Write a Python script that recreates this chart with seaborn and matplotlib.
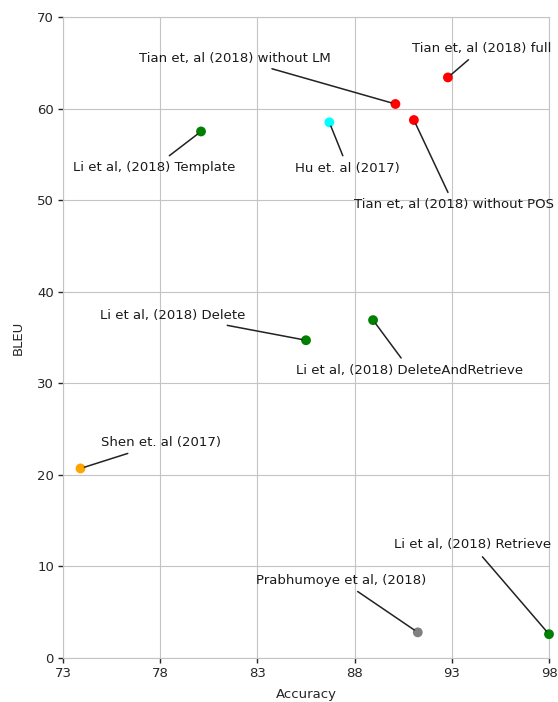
import matplotlib
matplotlib.use("Agg")
import matplotlib.pyplot as plt
import seaborn as sns
import pandas as pd

# data
systems = [
    "Tian et, al (2018) full",
    "Tian et, al (2018) without LM",
    "Tian et, al (2018) without POS",
    "Hu et. al (2017)",
    "Li et al, (2018) Template",
    "Li et al, (2018) Delete",
    "Li et al, (2018) DeleteAndRetrieve",
    "Shen et. al (2017)",
    "Prabhumoye et al, (2018)",
    "Li et al, (2018) Retrieve",
]
accuracy = [92.8, 90.1, 91.05, 86.7, 80.1, 85.5, 88.95, 73.9, 91.25, 98.0]
bleu = [63.4, 60.5, 58.75, 58.5, 57.5, 34.7, 36.9, 20.7, 2.8, 2.6]
group = ["Tian", "Tian", "Tian", "Hu", "Li", "Li", "Li", "Shen", "Prabhumoye", "Li"]

palette = {"Tian": "red", "Hu": "cyan", "Li": "green", "Shen": "orange", "Prabhumoye": "grey"}

# where each label sits (text centre, data coords)
label_pos = [
    (94.55, 66.6), (81.85, 65.5), (93.1, 49.5), (87.65, 53.5), (77.7, 53.6),
    (78.65, 37.45), (90.85, 31.45), (78.05, 23.5), (87.3, 8.5), (94.05, 12.35),
]

df = pd.DataFrame({"system": systems, "accuracy": accuracy, "bleu": bleu, "group": group})

sns.set_style("whitegrid", {"grid.color": "#c4c4c4"})
plt.rcParams["xtick.bottom"] = True
plt.rcParams["ytick.left"] = True

fig = plt.figure(figsize=(5.58, 7.02), dpi=100)
ax = fig.add_axes([63 / 558, 44 / 702, 486 / 558, 641 / 702])

sns.scatterplot(x="accuracy", y="bleu", hue="group", palette=palette, data=df,
                s=50, edgecolor="none", legend=False, ax=ax, clip_on=False, zorder=3)

for name, x, y, (tx, ty) in zip(systems, accuracy, bleu, label_pos):
    ax.annotate(name, xy=(x, y), xytext=(tx, ty), ha="center", va="center",
                fontsize=9.5, color="#1a1a1a",
                arrowprops=dict(arrowstyle="-", color="#222222", lw=1.1, shrinkA=2, shrinkB=3))

ax.set_xlim(73, 98)
ax.set_ylim(0, 70)
ax.set_xticks([73, 78, 83, 88, 93, 98])
ax.set_yticks(range(0, 71, 10))
ax.tick_params(length=3.5, width=1, color="#262626", labelsize=9.5, pad=3)
ax.set_xlabel("Accuracy", fontsize=9.5, labelpad=6)
ax.set_ylabel("BLEU", fontsize=9.5, labelpad=9)
for s in ax.spines.values():
    s.set_color("#c4c4c4")

plt.savefig("out.png")
